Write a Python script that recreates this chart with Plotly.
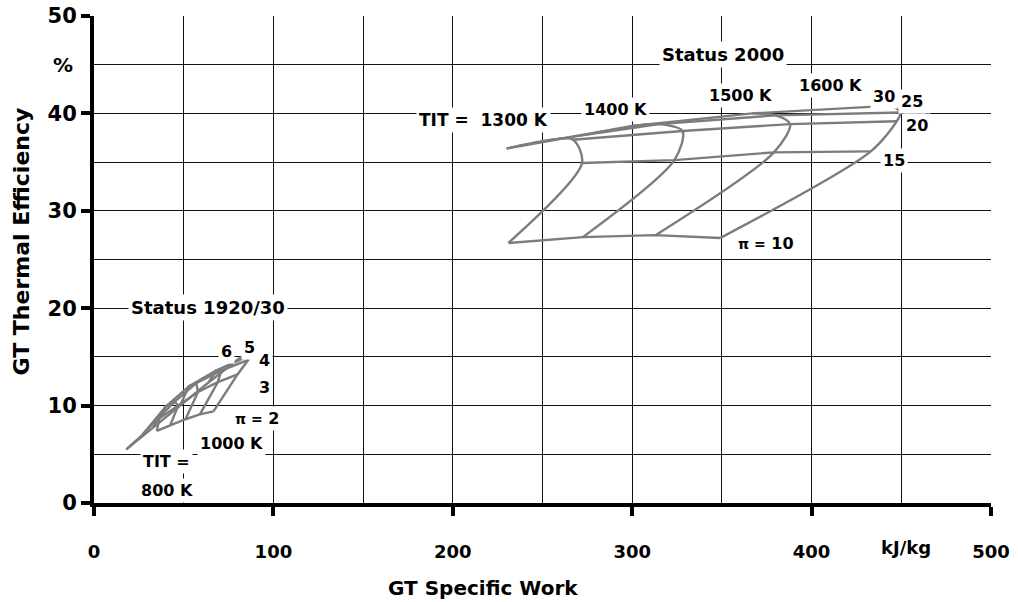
import plotly.graph_objects as go

# ---------------- data ----------------
# Status 2000 : turbine inlet temperatures and pressure ratios
tit_2000 = [1300, 1400, 1500, 1600]
pi_2000 = [10, 15, 20, 25, 30]
# rows = TIT, columns = pressure ratio
work_2000 = [
    [231, 272, 267, 252, 230],
    [272.5, 323.5, 328, 315, 300],
    [313, 379, 388, 380, 367],
    [349, 433, 447.5, 449.5, 445],
]
eff_2000 = [
    [26.7, 34.9, 37.3, 37.2, 36.4],
    [27.3, 35.2, 38.2, 38.9, 38.7],
    [27.5, 36.0, 38.9, 39.8, 40.0],
    [27.2, 36.1, 39.2, 40.1, 40.8],
]

# Status 1920/30
tit_1920 = [800, 850, 900, 950, 1000]
pi_1920 = [2, 3, 4, 5, 6]
work_1920 = [
    [35, 36.5, 33, 27, 18],
    [42.5, 47, 45, 40, 33],
    [51, 58, 57, 53, 48],
    [59, 69, 71, 68, 64],
    [66.6, 80, 86, 85, 82],
]
eff_1920 = [
    [7.4, 8.7, 8.2, 7.0, 5.5],
    [8.0, 10.0, 10.4, 9.9, 7.8],
    [8.6, 11.4, 12.3, 12.0, 10.0],
    [9.1, 12.4, 13.6, 13.6, 12.4],
    [9.4, 13.2, 14.7, 15.0, 15.0],
]

x_ticks = [0, 100, 200, 300, 400, 500]
y_ticks = [0, 10, 20, 30, 40, 50]

# text labels: (text, x, y, size)
labels = [
    ("Status 2000", 350.6, 46.0, 18),
    ("Status 1920/30", 63.8, 20.1, 18),
    ("TIT =  1300 K", 217.2, 39.3, 17),
    ("1400 K", 290.6, 40.4, 16),
    ("1500 K", 360.1, 41.8, 16),
    ("1600 K", 410.4, 42.9, 16),
    ("30", 440.4, 41.7, 16),
    ("25", 456.0, 41.2, 16),
    ("20", 459.0, 38.8, 16),
    ("15", 445.8, 35.2, 16),
    ("<span style='font-size:14px'>π =</span> 10", 374.6, 26.6, 16),
    ("6", 73.6, 15.6, 16),
    ("5", 86.8, 16.0, 16),
    ("4", 95.0, 14.6, 16),
    ("3", 95.0, 11.9, 16),
    ("<span style='font-size:14px'>π =</span> 2", 90.8, 8.7, 16),
    ("1000 K", 76.9, 6.1, 16),
    ("TIT =", 40.6, 4.3, 16),
    ("800 K", 40.8, 1.3, 16),
]

FONT = "DejaVu Sans, Liberation Sans, Arial"
CURVE = "#7c7c7c"

fig = go.Figure()

def add_line(xs, ys, shape="linear"):
    fig.add_trace(go.Scatter(
        x=xs, y=ys, mode="lines",
        line=dict(color=CURVE, width=2.4, shape=shape, smoothing=0.85),
        hoverinfo="skip", showlegend=False))

# constant TIT curves
for i in range(len(tit_2000)):
    add_line(work_2000[i], eff_2000[i], "spline")
for i in range(len(tit_1920)):
    add_line(work_1920[i], eff_1920[i])
# constant pressure-ratio curves
for j in range(len(pi_2000)):
    add_line([r[j] for r in work_2000], [r[j] for r in eff_2000])
for j in range(len(pi_1920)):
    add_line([r[j] for r in work_1920], [r[j] for r in eff_1920])

for txt, x, y, s in labels:
    fig.add_annotation(x=x, y=y, text=txt, showarrow=False,
                       font=dict(family=FONT, size=s, color="black", weight="bold"),
                       bgcolor="white", borderpad=2)

# axis titles and units
fig.add_annotation(x=216.8, y=-0.1745, xref="x", yref="paper", yanchor="middle",
                   text="GT Specific Work", showarrow=False,
                   font=dict(family=FONT, size=20, color="black", weight="bold"))
fig.add_annotation(x=-0.0808, y=26.8, xref="paper", yref="y", xanchor="center",
                   text="GT Thermal Efficiency", textangle=-90, showarrow=False,
                   font=dict(family=FONT, size=22, color="black", weight="bold"))
fig.add_annotation(x=452.8, y=-0.0924, xref="x", yref="paper", yanchor="middle",
                   text="kJ/kg", showarrow=False,
                   font=dict(family=FONT, size=18, color="black", weight="bold"))
fig.add_annotation(x=-0.0351, y=45, xref="paper", yref="y", xanchor="center",
                   text="%", showarrow=False,
                   font=dict(family=FONT, size=20, color="black", weight="bold"))

fig.update_xaxes(range=[0, 500], tickmode="array", tickvals=x_ticks,
                 ticktext=[str(v) for v in x_ticks],
                 showgrid=True, gridcolor="#111", gridwidth=1,
                 minor=dict(dtick=50, tick0=0, showgrid=True, gridcolor="#111", gridwidth=1),
                 showline=True, linecolor="black", linewidth=4,
                 ticks="outside", ticklen=9, tickwidth=4, tickcolor="black",
                 ticklabelstandoff=20, automargin=False,
                 zeroline=False,
                 tickfont=dict(family=FONT, size=18, color="black", weight="bold"))
fig.update_yaxes(range=[0, 50], tickmode="array", tickvals=y_ticks,
                 ticktext=[str(v) for v in y_ticks],
                 showgrid=True, gridcolor="#111", gridwidth=1,
                 minor=dict(dtick=5, tick0=0, showgrid=True, gridcolor="#111", gridwidth=1),
                 showline=True, linecolor="black", linewidth=4,
                 ticks="outside", ticklen=9, tickwidth=4, tickcolor="black",
                 automargin=False, zeroline=False,
                 tickfont=dict(family=FONT, size=21, color="black", weight="bold"))

fig.update_layout(width=1018, height=602,
                  margin=dict(l=94, r=27, t=16, b=99, autoexpand=False),
                  plot_bgcolor="white", paper_bgcolor="white")

fig.write_html("out.html", config={"displayModeBar": False},
               post_script="document.body.style.margin='0px';")
